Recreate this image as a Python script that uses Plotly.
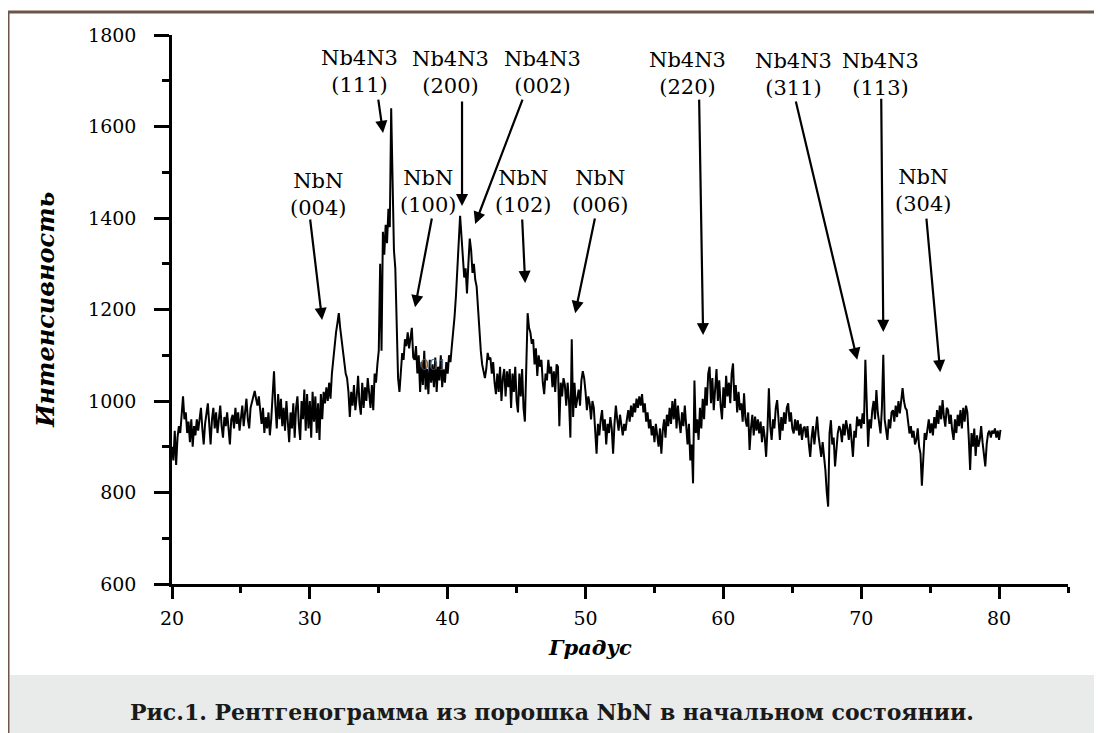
import plotly.graph_objects as go

# ---------------- data ----------------
START = 20.0
STEP = 0.1

int_20_30 = [900, 870, 935, 860, 920, 945, 930, 975, 1010, 960,
             975, 930, 955, 910, 960, 900, 945, 925, 960, 935,
             965, 985, 940, 905, 950, 970, 995, 950, 905, 960,
             985, 940, 975, 930, 960, 990, 945, 920, 965, 945,
             975, 930, 905, 960, 970, 940, 985, 950, 975, 935,
             960, 990, 945, 980, 1005, 960, 940, 985, 1000, 1015,
             1022, 1005, 990, 1010, 975, 950, 985, 930, 965, 940,
             975, 925, 960, 1010, 1065, 990, 940, 1015, 960, 1005,
             945, 985, 935, 1000, 955, 910, 975, 940, 995, 920,
             985, 1010, 950, 915, 1000, 960, 1025, 935, 1015, 940]

int_30_40 = [1000, 920, 1020, 955, 1010, 930, 995, 915, 1015, 960,
             1020, 995, 1030, 1000, 1040, 1005, 1060, 1095, 1120, 1150,
             1170, 1192, 1160, 1130, 1115, 1085, 1060, 1050, 1020, 965,
             1020, 990, 1035, 980, 1010, 1055, 995, 970, 1040, 985,
             1030, 1000, 1050, 1010, 985, 1035, 980, 1060, 1040, 1080,
             1110, 1300, 1110, 1370, 1320, 1385, 1345, 1420, 1380, 1640,
             1470, 1330, 1290, 1150, 1050, 1020, 1060, 1105, 1090, 1135,
             1120, 1150, 1115, 1140, 1160, 1095, 1090, 1120, 1060, 1100,
             1020, 1085, 1035, 1110, 1025, 1070, 1015, 1090, 1040, 1080,
             1030, 1095, 1020, 1075, 1045, 1100, 1030, 1070, 1040, 1085]

int_40_50 = [1060, 1100, 1085, 1120, 1150, 1185, 1230, 1290, 1340, 1405,
             1360, 1310, 1270, 1290, 1235, 1300, 1355, 1330, 1280, 1300,
             1265, 1250, 1200, 1150, 1110, 1080, 1060, 1050, 1070, 1105,
             1090, 1095, 1060, 1085, 1040, 1015, 1060, 1020, 1075, 1000,
             1050, 1070, 1010, 1065, 1030, 1070, 985, 1060, 1020, 1075,
             1000, 975, 1060, 1010, 1070, 985, 955, 1080, 1192, 1160,
             1150, 1125, 1135, 1080, 1115, 1055, 1100, 1075, 1090, 1040,
             1015, 1060, 1045, 1090, 1060, 1075, 1030, 1065, 1020, 1080,
             1075, 945, 1040, 1010, 1050, 1035, 990, 1040, 1000, 920,
             1135, 965, 1040, 985, 1010, 1025, 990, 1045, 1065, 1050]

int_50_60 = [1020, 980, 1010, 995, 960, 1000, 985, 940, 885, 950,
             925, 960, 980, 935, 960, 905, 950, 930, 965, 940,
             885, 950, 990, 960, 935, 970, 945, 925, 950, 935,
             960, 980, 955, 990, 965, 995, 975, 1005, 985, 1010,
             990, 1015, 975, 995, 955, 975, 940, 960, 925, 945,
             910, 950, 925, 900, 940, 885, 935, 960, 920, 970,
             945, 985, 950, 1000, 960, 1005, 940, 990, 955, 930,
             975, 945, 990, 935, 905, 950, 870, 905, 820, 1045,
             930, 960, 915, 985, 940, 1005, 960, 1030, 990, 1060,
             1075, 995, 1050, 980, 1040, 1070, 1000, 1045, 990, 960]

int_60_70 = [1030, 985, 1055, 1010, 1040, 995, 1060, 1082, 1000, 1035,
             975, 1020, 980, 995, 955, 1017, 960, 944, 975, 893,
             940, 970, 925, 966, 935, 960, 929, 955, 910, 945,
             920, 878, 940, 1028, 945, 915, 960, 940, 985, 1002,
             960, 915, 965, 935, 975, 950, 985, 995, 955, 975,
             940, 929, 960, 935, 958, 925, 950, 915, 940, 944,
             920, 945, 905, 878, 920, 945, 905, 940, 966, 925,
             900, 878, 910, 880, 849, 800, 769, 930, 958, 905,
             920, 857, 905, 930, 945, 937, 910, 950, 925, 958,
             940, 915, 950, 905, 878, 935, 920, 966, 945, 960]

int_70_80 = [940, 973, 950, 1090, 985, 900, 960, 940, 980, 1000,
             960, 1024, 975, 950, 929, 985, 1101, 960, 930, 915,
             960, 940, 975, 980, 955, 990, 965, 1000, 973, 1010,
             1028, 1000, 985, 980, 950, 929, 945, 920, 935, 905,
             915, 940, 900, 885, 815, 880, 930, 915, 944, 960,
             930, 951, 925, 965, 940, 980, 950, 990, 960, 1002,
             965, 944, 985, 980, 950, 970, 935, 915, 960, 930,
             970, 945, 980, 940, 985, 955, 990, 975, 920, 849,
             930, 900, 940, 880, 925, 900, 915, 945, 910, 880,
             857, 905, 929, 935, 920, 935, 929, 940, 920, 935,
             915, 937]

intensity = int_20_30 + int_30_40 + int_40_50 + int_50_60 + int_60_70 + int_70_80
two_theta = [round(START + i * STEP, 1) for i in range(len(intensity))]

# peak annotations: label text, label centre, arrow tail, arrow head (data units)
peak_labels = ["NbN<br>(004)", "Nb4N3<br>(111)", "NbN<br>(100)", "Nb4N3<br>(200)",
               "Nb4N3<br>(002)", "NbN<br>(102)", "NbN<br>(006)", "Nb4N3<br>(220)",
               "Nb4N3<br>(311)", "Nb4N3<br>(113)", "NbN<br>(304)"]
label_x = [30.6, 33.57, 38.58, 40.17, 46.85, 45.47, 51.06, 57.37, 65.07, 71.38, 74.5]
label_y = [1452, 1721, 1457, 1719, 1719, 1457, 1457, 1715, 1713, 1713, 1461]
tail_x = [30.01, 34.95, 38.87, 41.04, 45.47, 45.40, 50.70, 58.24, 65.23, 71.45, 74.72]
tail_y = [1400, 1662, 1402, 1658, 1662, 1400, 1402, 1662, 1658, 1664, 1402]
head_x = [30.89, 35.31, 37.63, 41.04, 41.99, 45.62, 49.25, 58.53, 69.71, 71.60, 75.73]
head_y = [1177, 1586, 1205, 1426, 1387, 1258, 1192, 1144, 1090, 1151, 1063]

x_title = "Градус"
y_title = "Интенсивность"
caption = "Рис.1. Рентгенограмма из порошка NbN в начальном состоянии."

# ---------------- figure ----------------
FONT = "DejaVu Serif"

fig = go.Figure()
fig.add_trace(go.Scatter(x=two_theta, y=intensity, mode="lines",
                         line=dict(color="black", width=2), hoverinfo="skip"))

annotations = []
for t, lx, ly in zip(peak_labels, label_x, label_y):
    annotations.append(dict(x=lx, y=ly, xref="x", yref="y", text=t, showarrow=False,
                            font=dict(family=FONT, size=21, color="black"),
                            xanchor="center", yanchor="middle", align="center"))
for tx, ty, hx, hy in zip(tail_x, tail_y, head_x, head_y):
    annotations.append(dict(x=hx, y=hy, ax=tx, ay=ty, xref="x", yref="y",
                            axref="x", ayref="y", text="", showarrow=True,
                            arrowhead=2, arrowsize=1.1, arrowwidth=2.2,
                            arrowcolor="black", standoff=0, startstandoff=0))
# faint stray label inside the data
annotations.append(dict(x=38.94, y=1079, xref="x", yref="y", text="001", showarrow=False,
                        font=dict(family=FONT, size=14, color="#555555")))
# axis titles
annotations.append(dict(x=0.4665, y=-0.115, xref="paper", yref="paper",
                        text="<b><i>" + x_title + "</i></b>", showarrow=False,
                        font=dict(family=FONT, size=21, color="black"),
                        xanchor="center", yanchor="middle"))
annotations.append(dict(x=-0.1417, y=0.499, xref="paper", yref="paper",
                        text="<b><i>" + y_title + "</i></b>", showarrow=False, textangle=-90,
                        font=dict(family=FONT, size=24, color="black"),
                        xanchor="center", yanchor="middle"))
# caption
annotations.append(dict(x=0.424, y=-0.233, xref="paper", yref="paper",
                        text="<b>" + caption + "</b>", showarrow=False,
                        font=dict(family=FONT, size=22, color="#1a1a1a"),
                        xanchor="center", yanchor="middle"))

shapes = [
    # caption band
    dict(type="rect", xref="paper", yref="paper", x0=-0.181, x1=1.05, y0=-0.29, y1=-0.1658,
         fillcolor="#e9ebea", line=dict(width=0), layer="below"),
    # frame: top and left
    dict(type="line", xref="paper", yref="paper", x0=-0.183, x1=1.05, y0=1.0419, y1=1.0419,
         line=dict(color="#6e5549", width=3)),
    dict(type="line", xref="paper", yref="paper", x0=-0.183, x1=-0.183, y0=1.0419, y1=-0.29,
         line=dict(color="#6e5549", width=3)),
]

# page has an 8px body margin, so the figure is 8px smaller and shifted
fig.update_layout(
    width=1094, height=725,
    margin=dict(l=164, r=34, t=27, b=149),
    paper_bgcolor="white", plot_bgcolor="white",
    showlegend=False,
    annotations=annotations, shapes=shapes,
    font=dict(family=FONT, color="black"),
)
fig.update_xaxes(range=[20, 85], dtick=10, tick0=20, ticks="outside", ticklen=12, tickwidth=2.5,
                 tickcolor="black", showline=True, linewidth=2.5, linecolor="black",
                 showgrid=False, zeroline=False, ticklabelstandoff=3,
                 tickfont=dict(family=FONT, size=19, color="black"),
                 minor=dict(dtick=5, tick0=20, ticks="outside", ticklen=6, tickwidth=2.5,
                            tickcolor="black", showgrid=False))
fig.update_yaxes(range=[600, 1800], dtick=200, tick0=600, ticks="outside", ticklen=15, tickwidth=2.5,
                 tickcolor="black", showline=True, linewidth=2.5, linecolor="black",
                 showgrid=False, zeroline=False, ticklabelstandoff=14,
                 tickfont=dict(family=FONT, size=19, color="black"),
                 minor=dict(dtick=100, tick0=600, ticks="outside", ticklen=7, tickwidth=2.5,
                            tickcolor="black", showgrid=False))

fig.write_html("out.html")
